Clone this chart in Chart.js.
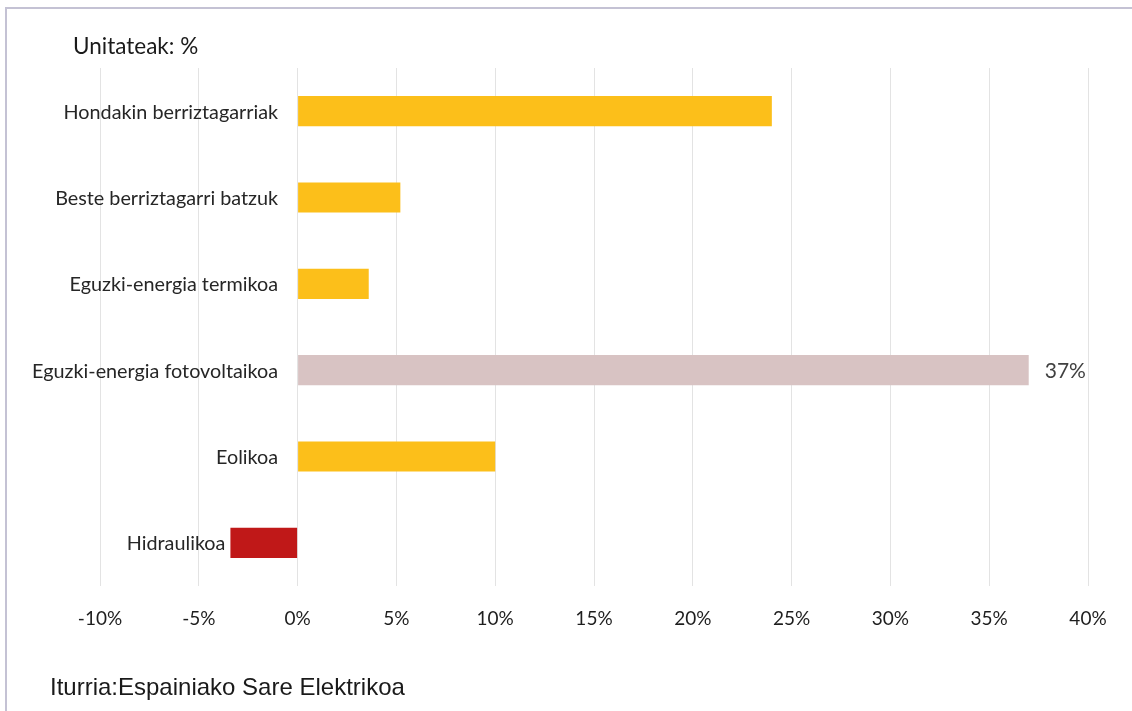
<!DOCTYPE html>
<html>
<head>
<meta charset="utf-8">
<script src="https://cdn.jsdelivr.net/npm/chart.js@4.4.1/dist/chart.umd.min.js"></script>
<style>
  html, body { margin: 0; padding: 0; background: #fff; }
  #wrap { position: relative; width: 1132px; height: 711px; overflow: hidden; }
  #frame { position: absolute; left: 5px; top: 7px; right: -10px; bottom: -10px; border-left: 2px solid #c4c2d4; border-top: 2px solid #c4c2d4; }
  canvas { position: absolute; left: 0; top: 0; }
  #unit { position: absolute; left: 73px; top: 32px; font-family: Lato, "Noto Sans", sans-serif; font-size: 22.5px; color: #1a1a1a; white-space: nowrap; }
  #source { position: absolute; left: 50px; top: 673px; font-family: "Liberation Sans", Arial, sans-serif; font-size: 24px; color: #1a1a1a; white-space: nowrap; }
</style>
</head>
<body>
<div id="wrap">
  <div id="frame"></div>
  <canvas id="c" width="1132" height="711"></canvas>
  <div id="unit">Unitateak: %</div>
  <div id="source">Iturria:Espainiako Sare Elektrikoa</div>
</div>
<script>
const categories = [
  "Hondakin berriztagarriak",
  "Beste berriztagarri batzuk",
  "Eguzki-energia termikoa",
  "Eguzki-energia fotovoltaikoa",
  "Eolikoa",
  "Hidraulikoa"
];
const values = [24, 5.2, 3.6, 37, 10, -3.4];
const barColors = ["#FCBF1A", "#FCBF1A", "#FCBF1A", "#D8C3C3", "#FCBF1A", "#C01818"];
const labelledValues = [false, false, false, true, false, false];
const xTicks = [-10, -5, 0, 5, 10, 15, 20, 25, 30, 35, 40];

const FONT = 'Lato, "Noto Sans", sans-serif';

// category names sit just left of each bar's left end; value label right of bar end
const barLabelPlugin = {
  id: 'barLabels',
  afterDatasetsDraw(chart) {
    const ctx = chart.ctx;
    const meta = chart.getDatasetMeta(0);
    ctx.save();
    ctx.textBaseline = 'middle';
    meta.data.forEach((bar, i) => {
      const negative = bar.x < bar.base;
      const leftEnd = Math.min(bar.x, bar.base);
      ctx.font = '19.8px ' + FONT;
      ctx.fillStyle = '#262626';
      ctx.textAlign = 'right';
      ctx.fillText(categories[i], leftEnd - (negative ? 5 : 20), bar.y + 1);
      if (labelledValues[i]) {
        ctx.font = '21px ' + FONT;
        ctx.fillStyle = '#404040';
        ctx.textAlign = 'left';
        ctx.fillText(values[i] + '%', bar.x + 16, bar.y + 1);
      }
    });
    ctx.restore();
  }
};

new Chart(document.getElementById('c'), {
  type: 'bar',
  data: {
    labels: categories,
    datasets: [{
      data: values,
      backgroundColor: barColors,
      borderWidth: 0,
      barPercentage: 0.35,
      categoryPercentage: 1
    }]
  },
  options: {
    indexAxis: 'y',
    responsive: false,
    animation: false,
    devicePixelRatio: 1,
    layout: { padding: { left: 100, right: 44, top: 68, bottom: 65 } },
    plugins: { legend: { display: false }, tooltip: { enabled: false }, title: { display: false } },
    scales: {
      x: {
        min: -10, max: 40,
        afterBuildTicks: (s) => { s.ticks = xTicks.map(v => ({ value: v })); },
        afterFit: (s) => { s.height = 60; },
        grid: { color: '#e3e3e3', lineWidth: 1, drawTicks: false },
        border: { display: false },
        ticks: {
          padding: 21,
          color: '#1e1e1e',
          font: { family: FONT, size: 19 },
          callback: (v) => v + '%'
        }
      },
      y: {
        position: 'left',
        afterFit: (s) => { s.width = 0; },
        grid: { display: false, drawTicks: false },
        border: { display: false },
        ticks: { display: false }
      }
    }
  },
  plugins: [barLabelPlugin]
});
</script>
</body>
</html>
